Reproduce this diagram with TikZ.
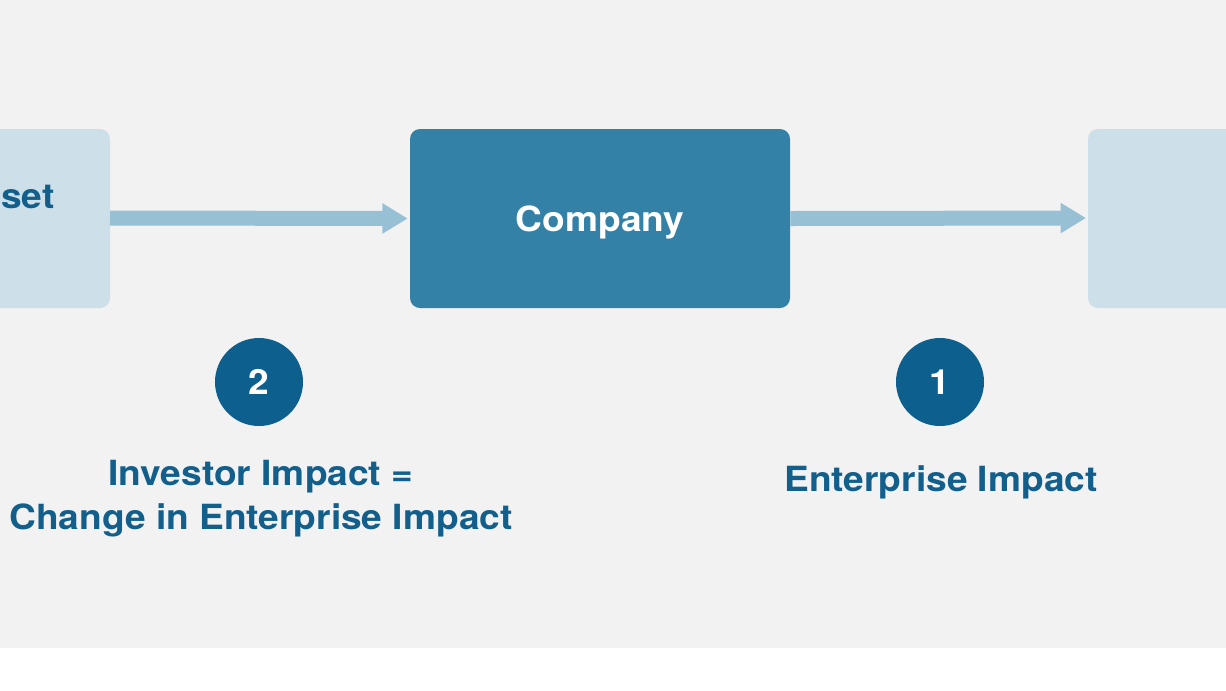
\documentclass[tikz,border=0pt]{standalone}
\usepackage{fontspec}
\setmainfont[FakeStretch=1.07]{TeX Gyre Heros}
\usetikzlibrary{arrows.meta}
\definecolor{bg}{HTML}{F2F2F2}
\definecolor{darkblue}{HTML}{0D5F8D}
\definecolor{textblue}{HTML}{135F8C}
\definecolor{midblue}{HTML}{3481A8}
\definecolor{lightbox}{HTML}{CDE0EA}
\definecolor{arrowblue}{HTML}{98C0D5}
\tikzset{
  px/.style={x=0.75pt,y=-0.75pt},
  bigfont/.style={font=\bfseries\fontsize{26}{33}\selectfont},
  lightnode/.style={fill=lightbox,rounded corners=7.5pt,inner sep=0pt},
  mainnode/.style={fill=midblue,rounded corners=7.5pt,inner sep=0pt,text=white,bigfont,text depth=0pt},
  numcircle/.style={circle,fill=darkblue,minimum size=66pt,inner sep=0pt,text=white,bigfont,text depth=0pt},
  label/.style={text=textblue,bigfont,align=center,inner sep=0pt},
  flow/.style={draw=arrowblue,line width=11.25pt,-{Triangle[length=19pt,width=21.5pt]},shorten >=1.5pt}
}
\begin{document}
\begin{tikzpicture}[px]
\useasboundingbox (0,0) rectangle (1226,690);
\fill[bg] (0,0) rectangle (1226,648);
\begin{scope}
\clip (0,0) rectangle (1226,690);
\path[lightnode] (-40,129) rectangle (110,308);
\path[lightnode] (1088,129) rectangle (1270,308);
\coordinate (leftE) at (110,218);
\coordinate (rightW) at (1088,218);
\node[text=textblue,bigfont,anchor=base east,inner sep=0pt] (asset) at (55,208) {set};
\end{scope}
\node[mainnode,minimum width=285pt,minimum height=134.25pt] (company) at (600,218.5) {Company};
\draw[flow] (leftE) -- (company.west);
\draw[flow] (company.east) -- (rightW);
\node[numcircle] (two) at (259,382) {2};
\node[numcircle] (one) at (940,382) {1};
\node[label,anchor=base] (inv) at (261,529) {Investor Impact =\\Change in Enterprise Impact};
\node[label,anchor=base] (ent) at (941,491) {Enterprise Impact};
\end{tikzpicture}
\end{document}
